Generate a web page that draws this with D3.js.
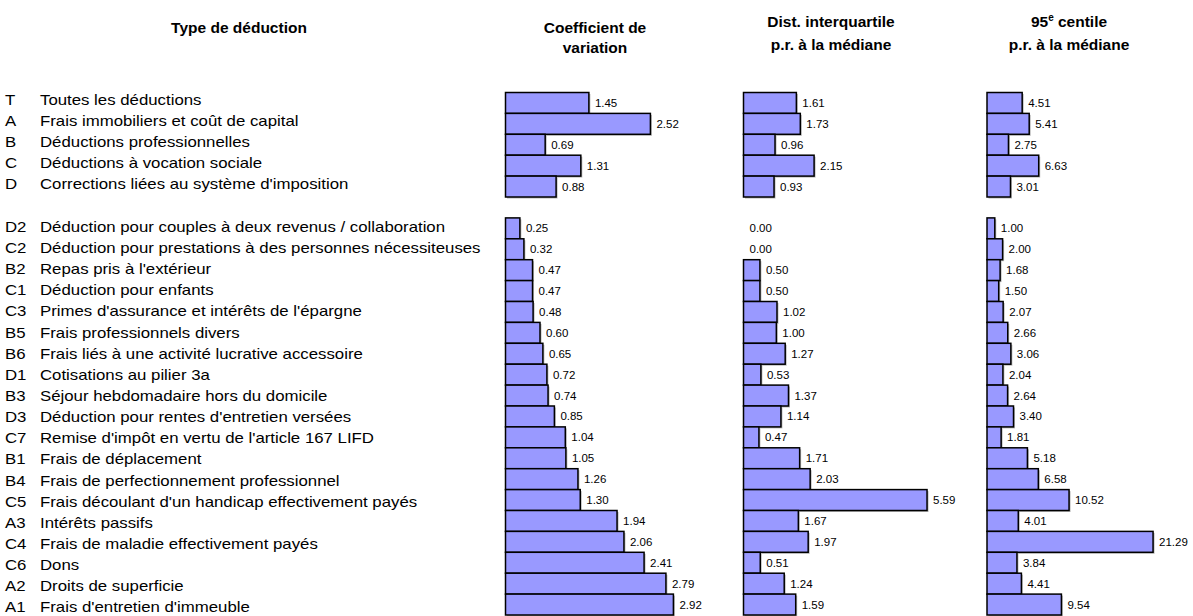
<!DOCTYPE html>
<html><head><meta charset="utf-8">
<script src="https://cdn.jsdelivr.net/npm/d3@7"></script>
<style>
body{margin:0;background:#fff;}
text{font-family:"Liberation Sans",Arial,sans-serif;}
</style></head>
<body><svg id="c" width="1193" height="616"></svg>
<script>
const codes = ["T","A","B","C","D","",
 "D2","C2","B2","C1","C3","B5","B6","D1","B3","D3","C7","B1","B4","C5","A3","C4","C6","A2","A1"];
const names = ["Toutes les déductions","Frais immobiliers et coût de capital","Déductions professionnelles","Déductions à vocation sociale","Corrections liées au système d'imposition","",
 "Déduction pour couples à deux revenus / collaboration","Déduction pour prestations à des personnes nécessiteuses","Repas pris à l'extérieur","Déduction pour enfants","Primes d'assurance et intérêts de l'épargne","Frais professionnels divers","Frais liés à une activité lucrative accessoire","Cotisations au pilier 3a","Séjour hebdomadaire hors du domicile","Déduction pour rentes d'entretien versées","Remise d'impôt en vertu de l'article 167 LIFD","Frais de déplacement","Frais de perfectionnement professionnel","Frais découlant d'un handicap effectivement payés","Intérêts passifs","Frais de maladie effectivement payés","Dons","Droits de superficie","Frais d'entretien d'immeuble"];
const coefVariation = [1.45,2.52,0.69,1.31,0.88,null,
 0.25,0.32,0.47,0.47,0.48,0.60,0.65,0.72,0.74,0.85,1.04,1.05,1.26,1.30,1.94,2.06,2.41,2.79,2.92];
const interquartile = [1.61,1.73,0.96,2.15,0.93,null,
 0.00,0.00,0.50,0.50,1.02,1.00,1.27,0.53,1.37,1.14,0.47,1.71,2.03,5.59,1.67,1.97,0.51,1.24,1.59];
const centile95 = [4.51,5.41,2.75,6.63,3.01,null,
 1.00,2.00,1.68,1.50,2.07,2.66,3.06,2.04,2.64,3.40,1.81,5.18,6.58,10.52,4.01,21.29,3.84,4.41,9.54];

const svg = d3.select("#c");
const idx = d3.range(codes.length);
const y = d3.scaleBand().domain(idx).range([92.5, 615]).padding(0);
const yLab = d3.scaleBand().domain(idx).range([89.4, 618.1]).padding(0);

// Row labels (slightly stretched horizontally like the reference)
const sx = 1.2;
const rows = svg.append("g").attr("transform", `scale(${sx},1)`).attr("font-size",14);
idx.filter(i => codes[i] !== "").forEach(i => {
  const cy = yLab(i) + yLab.bandwidth()/2;
  rows.append("text").attr("x",5/sx).attr("y",cy).attr("dy","0.35em").text(codes[i]);
  rows.append("text").attr("x",40/sx).attr("y",cy).attr("dy","0.35em").text(names[i]);
});

// Headers
const hdr = svg.append("g").attr("font-weight","bold").attr("font-size",15.5).attr("text-anchor","middle");
hdr.append("text").attr("x",239).attr("y",33).text("Type de déduction");
hdr.append("text").attr("x",595).attr("y",33).text("Coefficient de");
hdr.append("text").attr("x",595).attr("y",53).text("variation");
hdr.append("text").attr("x",831).attr("y",27).text("Dist. interquartile");
hdr.append("text").attr("x",831).attr("y",50).text("p.r. à la médiane");
const t95 = hdr.append("text").attr("x",1069).attr("y",27);
t95.append("tspan").text("95");
t95.append("tspan").attr("dy",-6).attr("font-size",10).text("e");
t95.append("tspan").attr("dy",6).text(" centile");
hdr.append("text").attr("x",1069).attr("y",50).text("p.r. à la médiane");

const panels = [
  {vals: coefVariation, x: d3.scaleLinear().domain([0,3]).range([505.5, 678])},
  {vals: interquartile, x: d3.scaleLinear().domain([0,6]).range([743.5, 940.5])},
  {vals: centile95, x: d3.scaleLinear().domain([0,25]).range([987, 1182])}
];

panels.forEach(p => {
  const g = svg.append("g");
  const data = idx.filter(i => p.vals[i] !== null);
  const pos = data.filter(i => p.vals[i] > 0);
  g.selectAll("rect.s").data(pos).join("rect").attr("class","s")
    .attr("x", p.x(0)+1.5).attr("y", i => y(i)+1.5)
    .attr("width", i => p.x(p.vals[i]) - p.x(0)).attr("height", y.bandwidth())
    .attr("fill","#b8b8b8");
  g.selectAll("rect.b").data(pos).join("rect").attr("class","b")
    .attr("x", p.x(0)).attr("y", i => y(i))
    .attr("width", i => p.x(p.vals[i]) - p.x(0)).attr("height", y.bandwidth())
    .attr("fill","#9999ff").attr("stroke","#000").attr("stroke-width",1.5);
  g.selectAll("text").data(data).join("text")
    .attr("x", i => p.x(p.vals[i]) + 6)
    .attr("y", i => y(i) + y.bandwidth()/2).attr("dy","0.35em")
    .attr("font-size",11.5).text(i => p.vals[i].toFixed(2));
});
</script></body></html>
